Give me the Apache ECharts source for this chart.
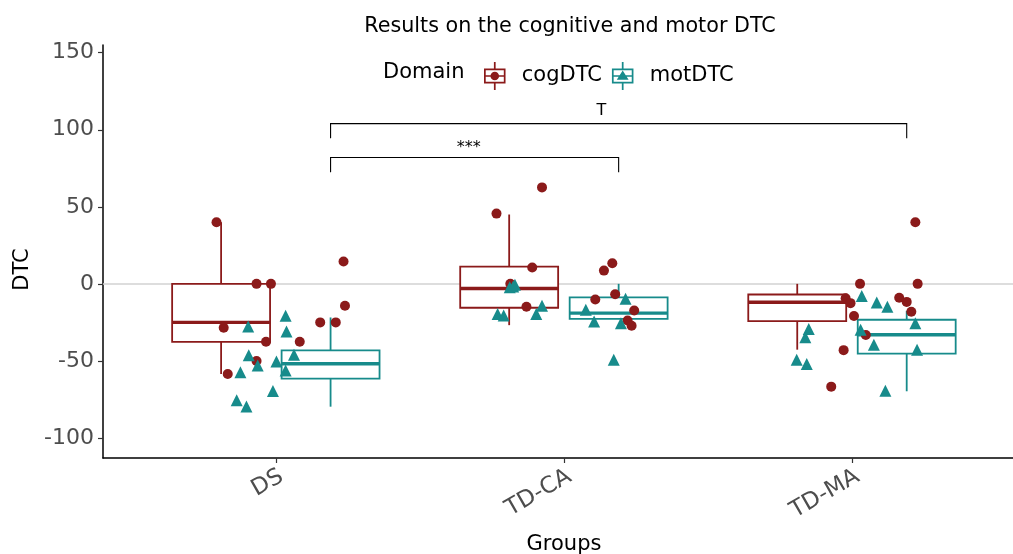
<!DOCTYPE html>
<html>
<head>
<meta charset="utf-8">
<script src="https://cdn.jsdelivr.net/npm/echarts@6/dist/echarts.min.js"></script>
<style>
  html, body { margin: 0; padding: 0; background: #fff; }
  #main { width: 1013px; height: 554px; }
</style>
</head>
<body>
<div id="main"></div>
<script>
// groups on the x axis, domains in the legend
var groups = ['DS', 'TD-CA', 'TD-MA'];
var domains = ['cogDTC', 'motDTC'];
var colors = ['#8B1A1A', '#178B8B'];

// box stats per group: [lower whisker, Q1, median, Q3, upper whisker]
var cogBox = [
    [-58.5, -37.6, -25, 0, 40],
    [-26.8, -15.5, -3, 11.2, 45],
    [-42.7, -24.2, -11.9, -6.9, 0]
];
var motBox = [
    [-79.7, -61.5, -51.8, -43.2, -21.8],
    [-22.7, -22.7, -19, -8.8, 0],
    [-69.7, -45.3, -33, -23.3, -17.5]
];

// jittered points: group index, horizontal jitter, value
var cogGroup = [0,0,0,0,0,0,0,0,0,0,0,0, 1,1,1,1,1,1,1,1,1,1,1,1, 2,2,2,2,2,2,2,2,2,2,2,2];
var cogJitter = [
    -0.206, -0.067, -0.017, -0.181, -0.034, 0.083, -0.067, -0.167, 0.235, 0.240, 0.154, 0.208,
    -0.076, -0.234, -0.110, -0.186, -0.130, 0.168, 0.139, 0.178, 0.109, 0.244, 0.221, 0.235,
    0.220, 0.028, 0.228, -0.022, -0.005, 0.164, 0.190, 0.206, 0.007, 0.048, -0.029, -0.072
];
var cogValue = [
    40, 0, 0, -28.5, -37.6, -37.6, -50, -58.5, 14.5, -14.2, -25, -25,
    62.6, 45.6, 10.6, 0, -14.9, 13.4, 8.6, -6.7, -10.2, -17.3, -23.8, -27.2,
    40, 0, 0, -9.3, -12.5, -9, -11.7, -18.1, -20.9, -33.2, -43, -66.7
];
var motGroup = cogGroup.slice();
var motJitter = [
    0.034, -0.096, 0.037, 0.063, -0.094, -0.063, 0.002, 0.034, -0.123, -0.010, -0.136, -0.102,
    -0.170, -0.188, -0.076, -0.096, -0.230, -0.209, 0.214, 0.076, 0.105, 0.198, 0.173, -0.176,
    0.034, 0.086, 0.123, 0.220, -0.150, 0.030, -0.162, 0.076, 0.226, -0.192, -0.157, 0.116
];
var motValue = [
    -20.7, -27.6, -30.9, -46, -46.4, -52.9, -50.3, -56.3, -57.4, -69.5, -75.6, -79.5,
    -0.6, -2.2, -14.2, -19.6, -19.6, -20.5, -9.7, -16.8, -24.4, -25.5, -49.2, -1.7,
    -7.8, -12.1, -14.9, -25.5, -29.3, -29.8, -34.7, -39.5, -42.7, -49.2, -52, -69.3
];

// significance brackets
var bracketFrom = [0.19, 0.19];
var bracketTo = [1.19, 2.19];
var bracketY = [82, 104];
var bracketDrop = [9.5, 9.5];
var bracketLabel = ['***', 'T'];
var bracketLabelX = [0.67, 1.13];
var bracketLabelY = [88, 112];

var yTicks = [-100, -50, 0, 50, 100, 150];
var groupTicks = [0, 1, 2];

var font = 'DejaVu Sans';
var dodge = 0.19;
var boxWidth = 0.34;

var iconBox = 'M0 6H20V20H0Z M1.6 7.6V18.4H18.4V7.6Z M1.6 12.2H18.4V13.8H1.6Z M9.2 0H10.8V6H9.2Z M9.2 20H10.8V26H9.2Z ';
var icons = [
    'path://' + iconBox + 'M6 13A4 4 0 1 1 14 13A4 4 0 1 1 6 13Z',
    'path://' + iconBox + 'M10 8L15.5 16.5L4.5 16.5Z'
];

function boxData(stats, offset) {
    return stats.map(function (s, i) {
        return [i + offset].concat(s);
    });
}

function pointData(g, j, v) {
    return v.map(function (val, i) {
        return [g[i] + j[i], val];
    });
}

function renderBox(params, api) {
    var x = api.value(0);
    var color = api.visual('color');
    var half = api.size([boxWidth, 0])[0] / 2;
    var low = api.coord([x, api.value(1)]);
    var q1 = api.coord([x, api.value(2)]);
    var med = api.coord([x, api.value(3)]);
    var q3 = api.coord([x, api.value(4)]);
    var high = api.coord([x, api.value(5)]);
    var line = { stroke: color, lineWidth: 1.8 };
    return {
        type: 'group',
        children: [
            { type: 'line', shape: { x1: low[0], y1: low[1], x2: q1[0], y2: q1[1] }, style: line },
            { type: 'line', shape: { x1: q3[0], y1: q3[1], x2: high[0], y2: high[1] }, style: line },
            {
                type: 'rect',
                shape: { x: q3[0] - half, y: q3[1], width: half * 2, height: q1[1] - q3[1] },
                style: { fill: '#fff', stroke: color, lineWidth: 1.8 }
            },
            {
                type: 'line',
                shape: { x1: med[0] - half, y1: med[1], x2: med[0] + half, y2: med[1] },
                style: { stroke: color, lineWidth: 3.4 }
            }
        ]
    };
}

function renderBracket(params, api) {
    var a = api.coord([api.value(0), api.value(3)]);
    var b = api.coord([api.value(0), api.value(2)]);
    var c = api.coord([api.value(1), api.value(2)]);
    var d = api.coord([api.value(1), api.value(3)]);
    var t = api.coord([api.value(4), api.value(5)]);
    return {
        type: 'group',
        children: [
            { type: 'polyline', shape: { points: [a, b, c, d] }, style: { stroke: '#000', lineWidth: 1.1, fill: null } },
            {
                type: 'text', x: t[0], y: t[1],
                style: {
                    text: bracketLabel[params.dataIndex], fontSize: 16, fontFamily: font,
                    fill: '#000', align: 'center', verticalAlign: 'middle'
                }
            }
        ]
    };
}

var bracketData = bracketFrom.map(function (f, i) {
    return [f, bracketTo[i], bracketY[i], bracketY[i] - bracketDrop[i], bracketLabelX[i], bracketLabelY[i]];
});

var myChart = echarts.init(document.getElementById('main'));

var option = {
    animation: false,
    backgroundColor: '#fff',
    title: [{
        text: 'Results on the cognitive and motor DTC',
        left: 565,
        top: 11,
        textAlign: 'center',
        textStyle: { fontFamily: font, fontSize: 20.7, fontWeight: 'normal', color: '#000' }
    }, {
        text: 'Domain',
        left: 378,
        top: 57,
        textAlign: 'left',
        textStyle: { fontFamily: font, fontSize: 21, fontWeight: 'normal', color: '#000' }
    }],
    legend: {
        left: 479,
        top: 57,
        itemWidth: 22,
        itemHeight: 28,
        itemGap: 10,
        itemStyle: { borderWidth: 0 },
        textStyle: { fontFamily: font, fontSize: 21, color: '#000', padding: [0, 0, 0, 11] },
        data: domains.map(function (d, i) {
            return { name: d, icon: icons[i], itemStyle: { color: colors[i], borderWidth: 0 } };
        })
    },
    grid: { left: 103, right: 0, top: 45, bottom: 96, outerBoundsMode: 'none' },
    xAxis: {
        type: 'value',
        min: -0.6,
        max: 2.559,
        name: 'Groups',
        nameLocation: 'middle',
        nameGap: 76,
        nameTextStyle: { fontFamily: font, fontSize: 21, color: '#000', padding: [0, 0, 0, 12] },
        splitLine: { show: false },
        axisLine: { show: true, onZero: false, lineStyle: { color: '#000', width: 1.5 } },
        axisTick: { show: true, customValues: groupTicks, length: 5, lineStyle: { color: '#333', width: 1.2 } },
        axisLabel: {
            customValues: groupTicks,
            formatter: function (v) { return groups[Math.round(v)]; },
            rotate: 30,
            align: 'right',
            verticalAlign: 'top',
            margin: 7,
            fontFamily: font,
            fontSize: 23,
            color: '#4d4d4d'
        }
    },
    yAxis: {
        type: 'value',
        min: -113,
        max: 155,
        name: 'DTC',
        nameLocation: 'middle',
        nameGap: 62,
        nameTextStyle: { fontFamily: font, fontSize: 21, color: '#000', padding: [0, 36, 0, 0] },
        splitLine: { show: false },
        axisLine: { show: true, onZero: false, lineStyle: { color: '#000', width: 1.5 } },
        axisTick: { show: true, customValues: yTicks, length: 5, lineStyle: { color: '#333', width: 1.2 } },
        axisLabel: {
            customValues: yTicks,
            margin: 9,
            fontFamily: font,
            fontSize: 22,
            color: '#4d4d4d'
        }
    },
    series: [{
        name: domains[0],
        type: 'custom',
        z: 6,
        renderItem: renderBox,
        itemStyle: { color: colors[0] },
        encode: { x: 0, y: [1, 2, 3, 4, 5] },
        data: boxData(cogBox, -dodge),
        markLine: {
            silent: true,
            symbol: 'none',
            label: { show: false },
            emphasis: { disabled: true },
            lineStyle: { color: '#d2d2d2', width: 1.6, type: 'solid', opacity: 1 },
            data: [{ yAxis: 0 }]
        }
    }, {
        name: domains[1],
        type: 'custom',
        z: 6,
        renderItem: renderBox,
        itemStyle: { color: colors[1] },
        encode: { x: 0, y: [1, 2, 3, 4, 5] },
        data: boxData(motBox, dodge)
    }, {
        name: domains[0],
        type: 'scatter',
        z: 7,
        symbol: 'circle',
        symbolSize: 10,
        itemStyle: { color: colors[0], opacity: 1 },
        data: pointData(cogGroup, cogJitter, cogValue)
    }, {
        name: domains[1],
        type: 'scatter',
        z: 8,
        symbol: 'triangle',
        symbolSize: 12,
        itemStyle: { color: colors[1], opacity: 1 },
        data: pointData(motGroup, motJitter, motValue)
    }, {
        name: 'brackets',
        type: 'custom',
        z: 9,
        silent: true,
        renderItem: renderBracket,
        encode: { x: [0, 1, 4], y: [2, 3, 5] },
        data: bracketData
    }]
};

myChart.setOption(option);
</script>
</body>
</html>
